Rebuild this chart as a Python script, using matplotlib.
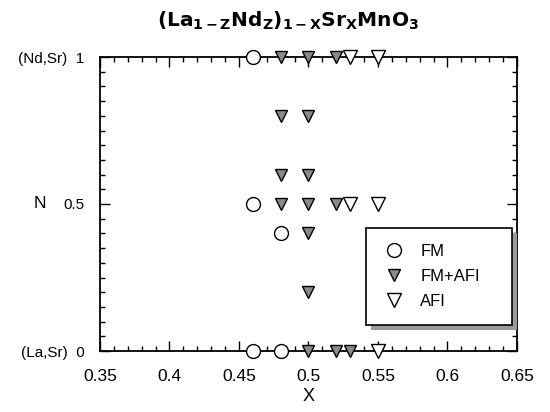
import matplotlib
matplotlib.use("Agg")
import matplotlib.pyplot as plt
from matplotlib.ticker import MultipleLocator
from matplotlib.patches import Rectangle

plt.rcParams['font.family'] = ['Liberation Sans', 'DejaVu Sans']

# Data (x, z)
fm_x = [0.46, 0.46, 0.48, 0.46, 0.48]
fm_z = [1.0, 0.5, 0.4, 0.0, 0.0]

fmafi_x = [0.48, 0.50, 0.52,
           0.48, 0.50,
           0.48, 0.50,
           0.48, 0.50, 0.52,
           0.50,
           0.50,
           0.50, 0.52, 0.53]
fmafi_z = [1.0, 1.0, 1.0,
           0.8, 0.8,
           0.6, 0.6,
           0.5, 0.5, 0.5,
           0.4,
           0.2,
           0.0, 0.0, 0.0]

afi_x = [0.53, 0.55, 0.53, 0.55, 0.55]
afi_z = [1.0, 1.0, 0.5, 0.5, 0.0]

xticks = [0.35, 0.4, 0.45, 0.5, 0.55, 0.6, 0.65]
xticklabels = ['0.35', '0.4', '0.45', '0.5', '0.55', '0.6', '0.65']
yticks = [0, 0.5, 1]
yticklabels = ['(La,Sr)  0', '0.5', '(Nd,Sr)  1']

fig = plt.figure(figsize=(5.5, 4.12), dpi=100)
ax = fig.add_axes([100/550, 1-351/412, 417/550, 294/412])

ax.plot(fm_x, fm_z, linestyle='none', marker='o', markersize=10,
        markerfacecolor='white', markeredgecolor='black', markeredgewidth=1.0,
        clip_on=False, zorder=5, label='FM')
ax.plot(fmafi_x, fmafi_z, linestyle='none', marker='v', markersize=9,
        markerfacecolor='#8a8a8a', markeredgecolor='black', markeredgewidth=1.0,
        clip_on=False, zorder=5, label='FM+AFI')
ax.plot(afi_x, afi_z, linestyle='none', marker='v', markersize=10,
        markerfacecolor='white', markeredgecolor='black', markeredgewidth=1.0,
        clip_on=False, zorder=5, label='AFI')

ax.set_xlim(0.35, 0.65)
ax.set_ylim(0, 1)
ax.set_xticks(xticks)
ax.set_xticklabels(xticklabels, fontsize=12.5)
ax.set_yticks(yticks)
ax.set_yticklabels(yticklabels, fontsize=11)
ax.xaxis.set_minor_locator(MultipleLocator(0.01))
ax.yaxis.set_minor_locator(MultipleLocator(0.05))
ax.tick_params(which='both', direction='in', top=True, right=True, width=1.0)
ax.tick_params(which='major', length=7)
ax.tick_params(axis='x', which='major', pad=13)
ax.tick_params(axis='y', which='major', pad=11)
ax.tick_params(which='minor', length=3.5)
for s in ax.spines.values():
    s.set_linewidth(1.3)

ax.set_xlabel('X', fontsize=13, labelpad=3)
ax.set_ylabel('N', fontsize=12.5, rotation=0, va='center')
ax.yaxis.set_label_coords(-0.145, 0.5)

ax.set_title(r'$\mathbf{(La_{1-Z}Nd_{Z})_{1-X}Sr_{X}MnO_{3}}$', fontsize=14.5, pad=22, x=0.45)

# legend with shadow
leg = ax.legend(loc='upper left', bbox_to_anchor=(0.638, 0.418, 0.35, 0.0),
                mode='expand', frameon=True, fancybox=False, shadow=False,
                fontsize=12, handletextpad=0.9, borderpad=0.95,
                labelspacing=0.6, handlelength=1.4, borderaxespad=0.0)
leg.get_frame().set_edgecolor('black')
leg.get_frame().set_linewidth(1.2)
leg.get_frame().set_facecolor('white')
leg.get_frame().set_alpha(1.0)
fig.canvas.draw()
bb = leg.get_window_extent().transformed(fig.transFigure.inverted())
sh = Rectangle((bb.x0 + 5/550, bb.y0 - 5/412), bb.width, bb.height,
               transform=fig.transFigure, facecolor='#9a9a9a', edgecolor='none',
               zorder=leg.get_zorder() - 0.1)
ax.add_artist(sh)
sh.set_clip_on(False)

fig.savefig('out.png', dpi=100)
